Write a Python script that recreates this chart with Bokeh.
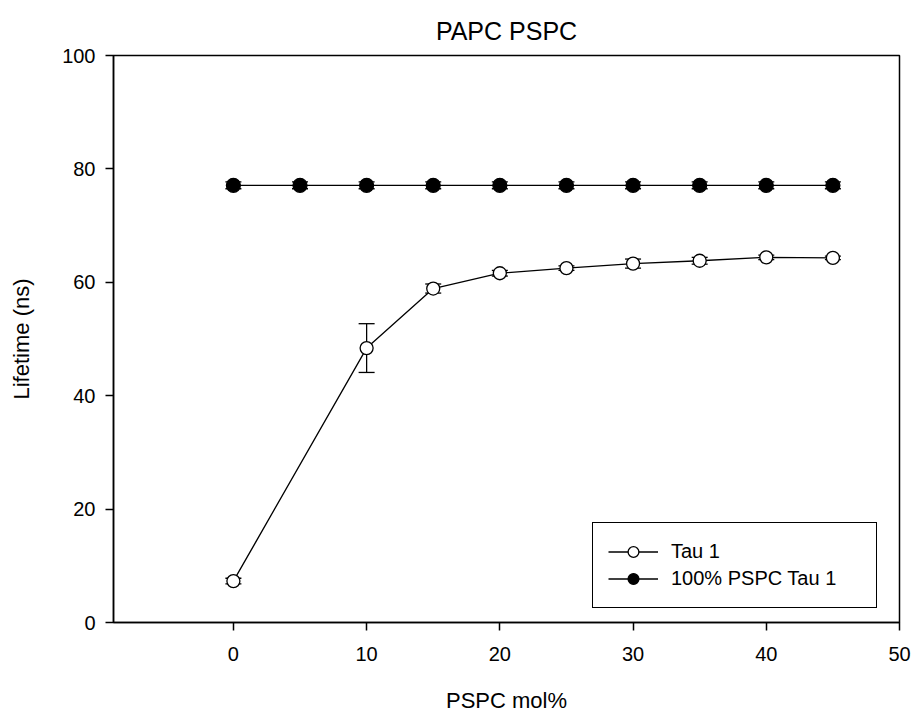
from bokeh.plotting import figure
from bokeh.models import (ColumnDataSource, Whisker, TeeHead, Legend, LegendItem,
                          FixedTicker, Range1d)
from bokeh.embed import file_html
from bokeh.resources import INLINE

# Data
x_tau = [0, 10, 15, 20, 25, 30, 35, 40, 45]
tau1 = [7.3, 48.4, 58.9, 61.6, 62.5, 63.3, 63.8, 64.4, 64.3]
tau1_err = [0.5, 4.3, 0.8, 0.5, 0.4, 0.8, 0.6, 0.4, 0.3]

x_ref = [0, 5, 10, 15, 20, 25, 30, 35, 40, 45]
ref_tau1 = [77.1, 77.1, 77.1, 77.1, 77.1, 77.1, 77.1, 77.1, 77.1, 77.1]
ref_err = [0.6, 0.6, 0.6, 0.6, 0.6, 0.6, 0.6, 0.6, 0.6, 0.6]

x_ticks = [0, 10, 20, 30, 40, 50]
y_ticks = [0, 20, 40, 60, 80, 100]

FONT = "Liberation Sans"

p = figure(width=917, height=722, output_backend="svg", toolbar_location=None,
           x_range=Range1d(-9, 50), y_range=Range1d(0, 100),
           title="PAPC PSPC", min_border_left=113, min_border_right=18,
           min_border_top=55, min_border_bottom=100)

p.title.align = "center"
p.title.text_font = FONT
p.title.text_font_size = "25px"
p.title.text_font_style = "normal"
p.title.text_color = "black"
p.title.standoff = 21

p.xgrid.visible = False
p.ygrid.visible = False
p.outline_line_color = "black"
p.outline_line_width = 1.5
p.outline_line_alpha = 1
p.background_fill_color = "white"
p.border_fill_color = "white"

for ax in (p.xaxis[0], p.yaxis[0]):
    ax.axis_line_width = 1.5
    ax.major_tick_line_width = 1.5
    ax.major_tick_in = 0
    ax.major_tick_out = 8
    ax.minor_tick_line_color = None
    ax.major_label_text_font = FONT
    ax.major_label_text_font_size = "20px"
    ax.major_label_text_color = "black"
    ax.axis_label_text_font = FONT
    ax.axis_label_text_font_size = "22px"
    ax.axis_label_text_font_style = "normal"
    ax.axis_label_text_color = "black"

p.xaxis.ticker = FixedTicker(ticks=x_ticks)
p.yaxis.ticker = FixedTicker(ticks=y_ticks)
p.xaxis.axis_label = "PSPC mol%"
p.yaxis.axis_label = "Lifetime (ns)"
p.xaxis.major_label_standoff = 16
p.yaxis.major_label_standoff = 10
p.xaxis.axis_label_standoff = 24
p.yaxis.axis_label_standoff = 25

src_tau = ColumnDataSource(dict(x=x_tau, y=tau1,
                                lo=[a - b for a, b in zip(tau1, tau1_err)],
                                hi=[a + b for a, b in zip(tau1, tau1_err)]))
src_ref = ColumnDataSource(dict(x=x_ref, y=ref_tau1,
                                lo=[a - b for a, b in zip(ref_tau1, ref_err)],
                                hi=[a + b for a, b in zip(ref_tau1, ref_err)]))

for src in (src_tau, src_ref):
    w = Whisker(source=src, base="x", lower="lo", upper="hi",
                line_color="black", line_width=1.3,
                upper_head=TeeHead(size=16, line_color="black", line_width=1.3),
                lower_head=TeeHead(size=16, line_color="black", line_width=1.3))
    p.add_layout(w)

l1 = p.line("x", "y", source=src_tau, line_color="black", line_width=1.3)
m1 = p.scatter("x", "y", source=src_tau, marker="circle", size=13,
               fill_color="white", line_color="black", line_width=1.3)
l2 = p.line("x", "y", source=src_ref, line_color="black", line_width=1.3)
m2 = p.scatter("x", "y", source=src_ref, marker="circle", size=14,
               fill_color="black", line_color="black", line_width=1.3)

legend = Legend(items=[LegendItem(label="Tau 1", renderers=[l1, m1]),
                       LegendItem(label="100% PSPC Tau 1", renderers=[l2, m2])],
                location=(479, 14))
legend.label_text_font = FONT
legend.label_text_font_size = "20px"
legend.label_text_color = "black"
legend.glyph_width = 50
legend.glyph_height = 27
legend.label_height = 27
legend.label_standoff = 13
legend.label_width = 190
legend.spacing = 0
legend.padding = 15
legend.margin = 0
legend.border_line_color = "black"
legend.border_line_width = 1.5
legend.border_line_alpha = 1
legend.background_fill_alpha = 1
p.add_layout(legend, "center")

open("out.html", "w").write(file_html(p, INLINE))
